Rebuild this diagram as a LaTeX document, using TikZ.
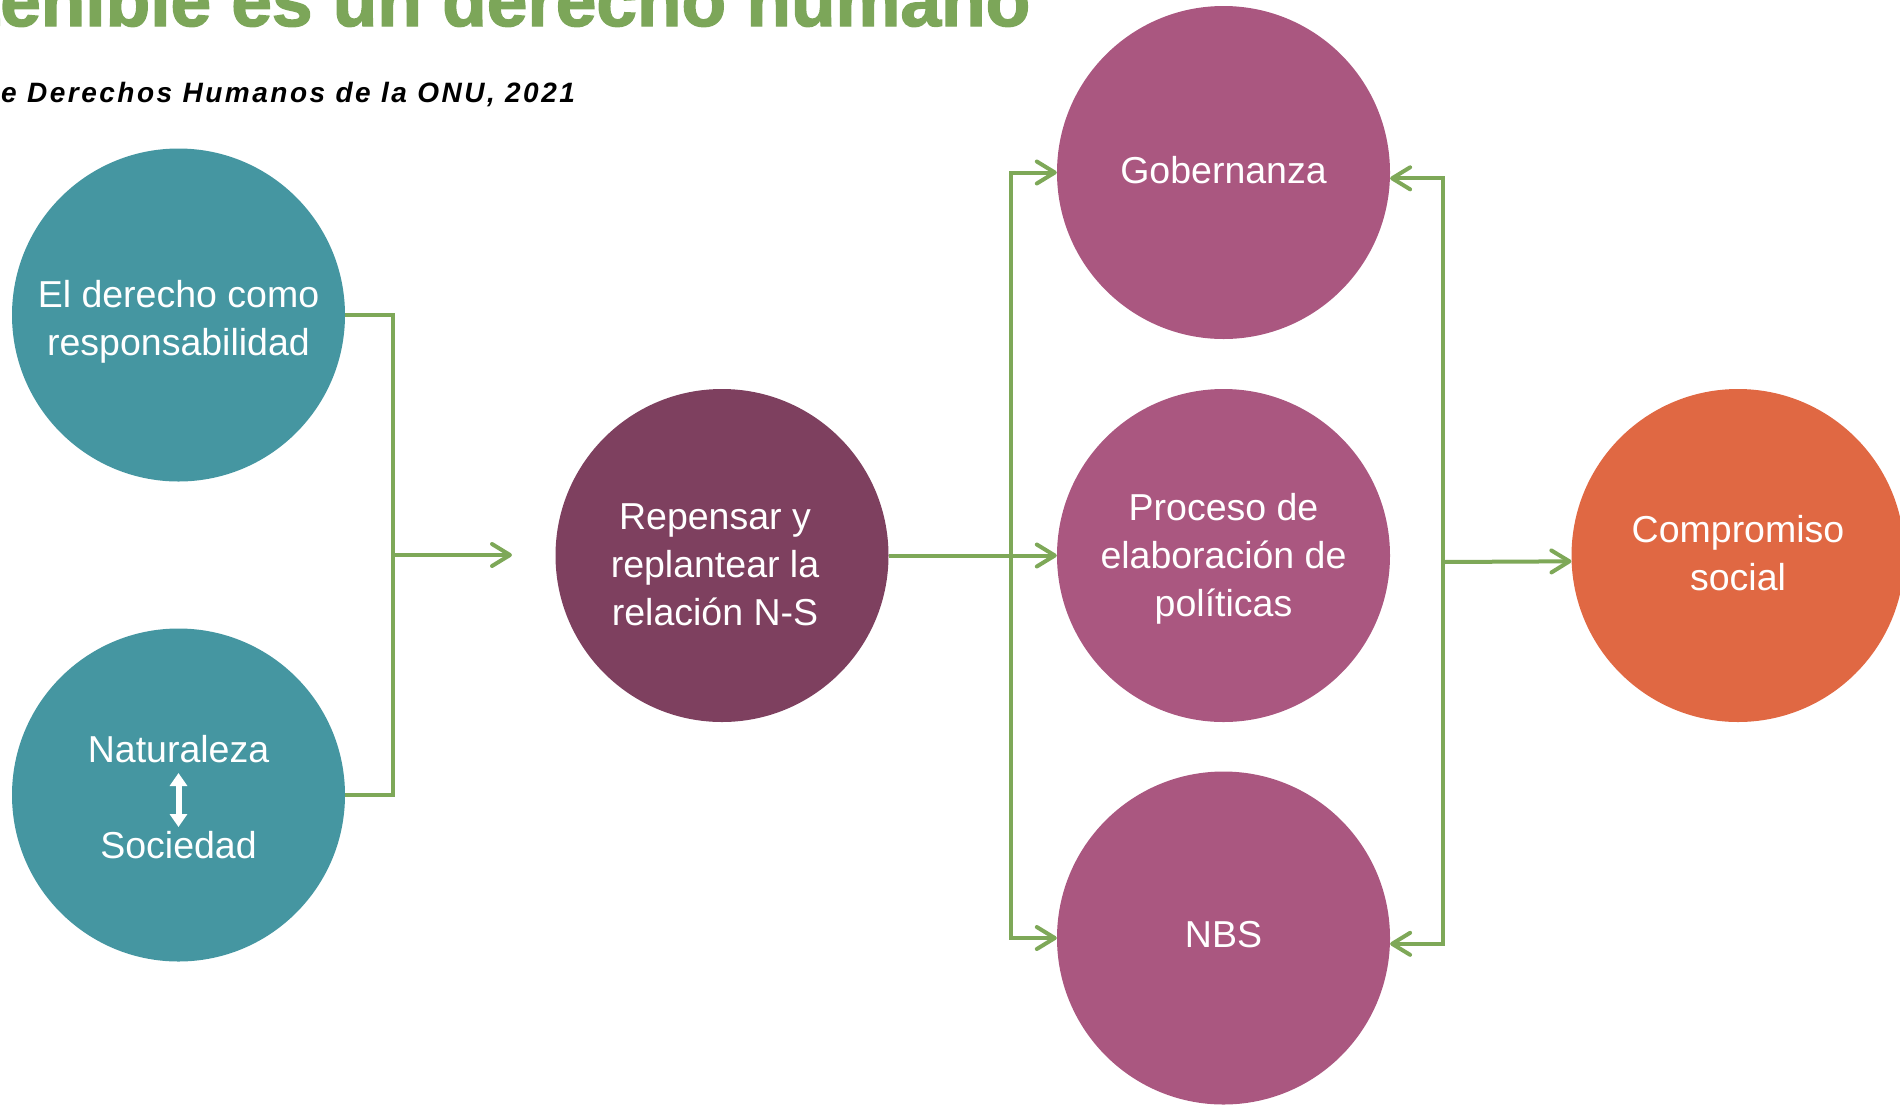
\documentclass[tikz,border=0pt]{standalone}
\usepackage{fontspec}
\setmainfont{Liberation Sans}
\newfontfamily\sourcefont{Liberation Sans}[LetterSpace=9]
\newfontfamily\headfont{Liberation Sans}[BoldFeatures={FakeBold=2}]
\usetikzlibrary{arrows.meta}

\definecolor{bubTeal}{RGB}{69,150,161}
\definecolor{bubPlum}{RGB}{126,64,95}
\definecolor{bubMauve}{RGB}{170,87,128}
\definecolor{bubOrange}{RGB}{224,104,67}
\definecolor{lineGreen}{RGB}{126,168,88}
\definecolor{headGreen}{RGB}{124,166,89}

\begin{document}
\begin{tikzpicture}[x=1pt,y=-1pt,
  >={Straight Barb[length=18pt,width=22pt,round]},
  bubble/.style={circle, minimum size=333pt, inner sep=0pt, text=white,
    align=center, font=\fontsize{37.5pt}{48pt}\selectfont},
  bubtext/.style={inner sep=0pt, text=white, align=center,
    font=\fontsize{37.5pt}{48pt}\selectfont},
  conn/.style={draw=lineGreen, line width=4pt}]
\useasboundingbox (0,0) rectangle (1900,1104);
\clip (0,0) rectangle (1900,1104);

% heading and source line
\node[anchor=base west, inner sep=0pt, text=headGreen, font=\headfont\bfseries] (title) at (0,26)
  {\resizebox{1030pt}{!}{\fontsize{72pt}{80pt}\selectfont\llap{sost}enible es un derecho humano}};
\node[anchor=base west, inner sep=0pt, font=\sourcefont\bfseries\itshape\fontsize{28pt}{32pt}\selectfont] (source) at (1,102)
  {e Derechos Humanos de la ONU, 2021};

% circles
\node[bubble, fill=bubTeal] (resp) at (178.5,315) {};
\node[bubtext] (resptxt) at (178.5,322) {El derecho como\\responsabilidad};
\node[bubble, fill=bubTeal] (natsoc) at (178.5,795) {};
\node[bubtext] (natsoctxt) at (178.5,797) {Naturaleza\\[48pt]Sociedad};
\node[bubble, fill=bubPlum] (rethink) at (722,555.5) {};
\node[bubtext] (rethinktxt) at (715,565) {Repensar y\\replantear la\\relación N-S};
\node[bubble, fill=bubMauve] (gov) at (1223.5,172.5) {};
\node[bubtext] (govtxt) at (1223.5,170) {Gobernanza};
\node[bubble, fill=bubMauve] (policy) at (1223.5,555.5) {};
\node[bubtext] (policytxt) at (1223.5,559) {Proceso de\\elaboración de\\políticas};
\node[bubble, fill=bubMauve] (nbs) at (1223.5,938) {};
\node[bubtext] (nbstxt) at (1223.5,935) {NBS};
\node[bubble, fill=bubOrange] (social) at (1738,555.5) {};
\node[bubtext] (socialtxt) at (1738,553) {Compromiso\\social};

% two-way arrow between Naturaleza and Sociedad
\coordinate (nsTop) at (178.5,773);
\coordinate (nsBot) at (178.5,827);
\draw[white, line width=6pt, {Triangle[length=13pt,width=17pt]}-{Triangle[length=13pt,width=17pt]}] (nsTop) -- (nsBot);

% left bracket joining the two teal circles
\coordinate (jl) at (393,555);
\coordinate (jlEnd) at (512,555);
\draw[conn] (resp.east) -| (jl) |- (natsoc.east);
\draw[conn,->] (jl) -- (jlEnd);

% fan-out to the three purple circles
\coordinate (jm) at (1011,555.5);
\draw[conn,->] (rethink.east) -- (policy.west);
\draw[conn,->] (jm) |- (gov.west);
\draw[conn,->] (jm) |- (nbs.west);

% right bracket feeding back and on to the orange circle
\coordinate (jr) at (1443,562);
\draw[conn,<->] (gov.-2.4) -| (jr) |- (nbs.-2);
\draw[conn,->] (jr) -- (social.182);
\end{tikzpicture}
\end{document}
